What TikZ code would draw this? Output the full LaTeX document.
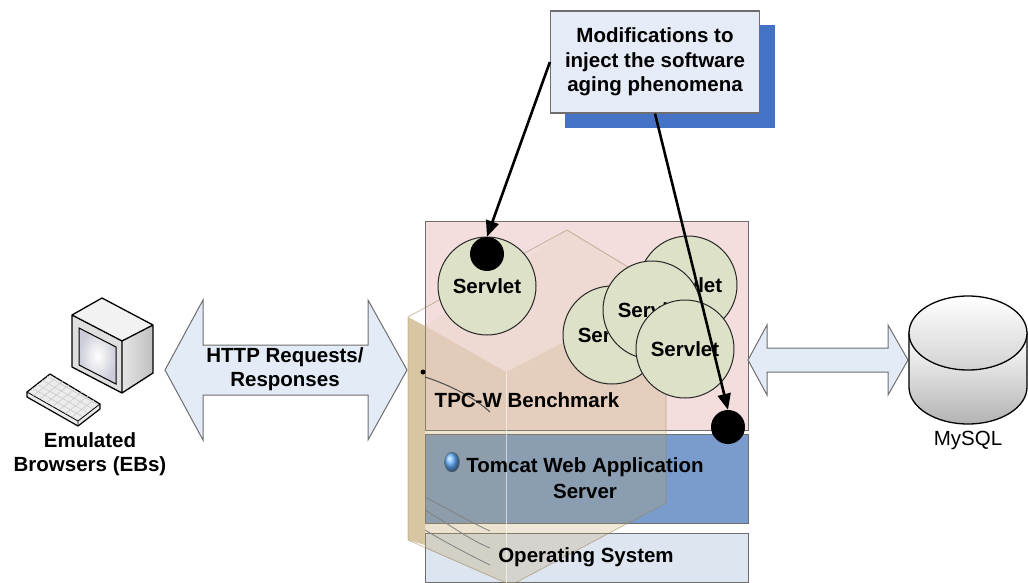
\documentclass[tikz,border=0pt]{standalone}
\usepackage{fontspec}
\setmainfont{Liberation Sans}
\usetikzlibrary{arrows.meta}

\definecolor{tpcfill}{RGB}{243,222,221}
\definecolor{tomcatfill}{RGB}{122,156,204}
\definecolor{osfill}{RGB}{221,229,241}
\definecolor{notefill}{RGB}{230,236,247}
\definecolor{noteshadow}{RGB}{68,114,196}
\definecolor{servletfill}{RGB}{221,225,199}
\definecolor{arrowfill}{RGB}{227,235,246}
\definecolor{towertan}{RGB}{190,160,100}
\definecolor{frame}{RGB}{110,110,110}

\newcommand{\diagfont}{\fontsize{20.5}{24.5}\selectfont}

\tikzset{
  layer/.style={draw=frame, line width=1pt, anchor=north west, inner sep=0pt},
  servlet/.style={circle, draw=black!85, line width=1pt, fill=servletfill,
    minimum size=98pt, inner sep=0pt, font=\diagfont\bfseries},
  hook/.style={circle, fill=black, minimum size=34pt, inner sep=0pt},
  inject/.style={-{Triangle[length=16pt,width=13pt]}, line width=2.6pt},
  blockarrow/.style={draw=frame, fill=arrowfill, line width=1pt},
  caption/.style={font=\diagfont\bfseries, align=center}
}

\begin{document}
\begin{tikzpicture}[x=1pt,y=-1pt,font=\diagfont]
\useasboundingbox (0,0) rectangle (1028,583);

% software stack
\node[layer, fill=tpcfill, minimum width=323pt, minimum height=209pt] (tpc) at (425,221) {};
\node[layer, fill=tomcatfill, minimum width=323pt, minimum height=89pt] (tomcat) at (425,434) {};
\node[layer, fill=osfill, minimum width=323pt, minimum height=49pt] (os) at (425,533) {};

% server tower, see-through
\fill[towertan, fill opacity=.6] (408,317) -- (425,326) -- (425,545) -- (408,540) -- cycle;
\fill[towertan, fill opacity=.3] (425,326) -- (506,372) -- (506,583) -- (425,548) -- cycle;
\fill[towertan, fill opacity=.25] (506,372) -- (666,290) -- (666,503) -- (515,583) -- (506,583) -- cycle;
\fill[towertan, fill opacity=.08] (425,326) -- (567,230) -- (666,290) -- (506,372) -- cycle;
\draw[towertan!80!black, opacity=.5, line width=.8pt] (408,317) -- (567,230) -- (666,290)
  (666,290) -- (666,503) -- (515,583) (408,317) -- (408,540) -- (506,583);
\draw[white, opacity=.6, line width=1pt] (506,372) -- (506,583);
\fill[black] (423,372) circle (2.5pt);
\draw[black!70, line width=1pt] (425,377) .. controls (450,385) and (475,398) .. (490,412);
\draw[black!50, line width=.8pt] (425,497) .. controls (450,510) and (470,522) .. (490,531)
  (425,510) .. controls (450,525) and (470,540) .. (490,548)
  (425,530) .. controls (450,545) and (470,555) .. (490,565);

% layer titles
\node[caption] (tpclabel) at (527,400) {TPC-W Benchmark};
\shade[ball color=cyan!50!blue!60, draw=black!60] (452,462) ellipse [x radius=7.5pt, y radius=10pt];
\node[caption] (tomcatlabel) at (585,478) {Tomcat Web Application\\[2pt]Server};
\node[caption] (oslabel) at (586,557) {Operating System};

% servlets
\node[servlet] (s1) at (487,286) {Servlet};
\node[servlet] (s2) at (688,285) {Servlet};
\node[servlet] (s3) at (612,335) {Servlet};
\node[servlet] (s4) at (652,310) {Servlet};
\node[servlet] (s5) at (685,349) {Servlet};

\node[hook] (hookA) at (487,254) {};
\node[hook] (hookB) at (728,427) {};

% injection note
\fill[noteshadow] (565,25) rectangle (775,128);
\node[draw=frame, line width=1.2pt, fill=notefill, minimum width=209pt, minimum height=102pt,
  caption] (mod) at (655,62) {Modifications to\\inject the software\\aging phenomena};

\draw[inject] (mod.west) -- (hookA.north);
\draw[inject] (mod.south) -- (hookB.north);

% HTTP traffic
\draw[blockarrow] (165,370) -- (203,300) -- (203,345) -- (368,345) -- (368,300) -- (407,370)
  -- (368,440) -- (368,395) -- (203,395) -- (203,440) -- cycle;
\node[caption] (http) at (285,369) {HTTP Requests/\\Responses};

% database link
\draw[blockarrow] (748,360) -- (767,325) -- (767,348) -- (888,348) -- (888,325) -- (908,360)
  -- (888,395) -- (888,372) -- (767,372) -- (767,395) -- cycle;

% MySQL
\shade[top color=white, bottom color=gray!60, draw=black, line width=1.3pt]
  (909,333) -- (909,387) arc[start angle=180, end angle=360, x radius=59pt, y radius=37pt]
  -- (1027,333) -- cycle;
\shade[top color=white, bottom color=gray!35, draw=black, line width=1.3pt]
  (968,333) ellipse [x radius=59pt, y radius=37pt];
\node (mysql) at (968,440) {MySQL};

% emulated browser
\shade[left color=gray!20, right color=gray!50] (122,341) -- (153,325) -- (153,373) -- (122,393) -- cycle;
\fill[gray!10] (72,315) -- (102,298) -- (153,325) -- (122,341) -- cycle;
\fill[gray!25] (72,315) -- (122,341) -- (122,393) -- (72,367) -- cycle;
\draw[black, line width=1.3pt, line join=round] (72,315) -- (102,298) -- (153,325) -- (153,373)
  -- (122,393) -- (72,367) -- cycle (72,315) -- (122,341) -- (153,325) (122,341) -- (122,393);
\shade[inner color=white, outer color=blue!15!gray!35, draw=black, line width=1pt]
  (79,328) -- (116,347) -- (116,384) -- (79,365) -- cycle;
\fill[gray!15, draw=black, line width=1.2pt, line join=round]
  (27,392) -- (50,374) -- (100,404) -- (100,409) -- (78,426) -- (27,397) -- cycle;
\draw[black, line width=.8pt] (27,392) -- (78,421) -- (100,404) (78,421) -- (78,426);
\foreach \i in {1,...,4}
  \draw[gray!45, line width=.5pt] (27+5*\i,392-4*\i) -- (78+5*\i,421-4*\i);
\foreach \j in {1,...,7}
  \draw[gray!45, line width=.5pt] (27+6.4*\j,392+3.6*\j) -- (50+6.4*\j,374+3.6*\j);
\node[caption] (eb) at (90,454) {Emulated\\Browsers (EBs)};
\end{tikzpicture}
\end{document}
